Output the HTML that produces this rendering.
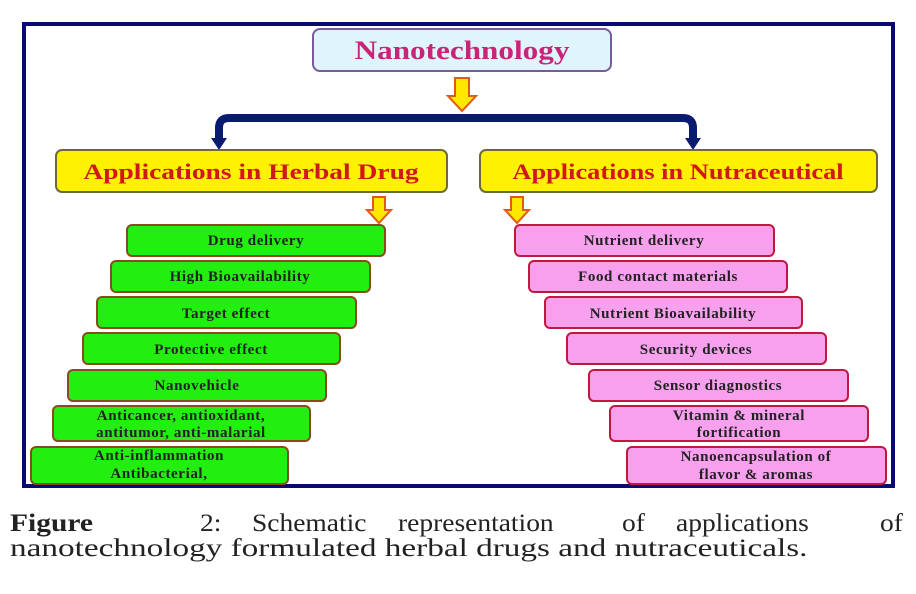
<!DOCTYPE html>
<html><head><meta charset="utf-8"><style>
html,body{margin:0;padding:0;background:#fff;width:916px;height:594px;overflow:hidden}
</style></head><body>
<svg width="916" height="594" viewBox="0 0 916 594" xmlns="http://www.w3.org/2000/svg" font-family="'Liberation Serif', serif" font-weight="bold">
<rect x="0" y="0" width="916" height="594" fill="#fff"/>
<rect x="24" y="24" width="869" height="462" fill="#fff" stroke="#0a0a6e" stroke-width="4"/>
<rect x="313" y="29" width="298" height="42" rx="7" fill="#dff4fb" stroke="#7a5a9a" stroke-width="2"/>
<text transform="translate(462,59) scale(1.2,1)" text-anchor="middle" font-size="26" fill="#c8247a">Nanotechnology</text>
<polygon points="455,78 469,78 469,96 476,96 462,111 448,96 455,96" fill="#ffe800" stroke="#e05a10" stroke-width="2"/>
<path d="M219,140 L219,128 Q219,118 229,118 L683,118 Q693,118 693,128 L693,140" fill="none" stroke="#0a1a6e" stroke-width="8"/>
<polygon points="211,138 227,138 219,150" fill="#0a1a6e"/>
<polygon points="685,138 701,138 693,150" fill="#0a1a6e"/>
<rect x="56" y="150" width="391" height="42" rx="6" fill="#fff200" stroke="#6a6a40" stroke-width="2"/>
<text transform="translate(251,179) scale(1.25,1)" text-anchor="middle" font-size="22" fill="#d01818">Applications in Herbal Drug</text>
<rect x="480" y="150" width="397" height="42" rx="6" fill="#fff200" stroke="#6a6a40" stroke-width="2"/>
<text transform="translate(678,179) scale(1.2,1)" text-anchor="middle" font-size="22" fill="#d01818">Applications in Nutraceutical</text>
<polygon points="373,197 385,197 385,210 391,210 379,223 367,210 373,210" fill="#ffe800" stroke="#e05a10" stroke-width="2"/>
<polygon points="511,197 523,197 523,210 529,210 517,223 505,210 511,210" fill="#ffe800" stroke="#e05a10" stroke-width="2"/>
<g font-size="15" fill="#222" text-anchor="middle" letter-spacing="0.6">
<g fill="#22ee10" stroke="#8a4a20" stroke-width="2">
<rect x="127" y="225" width="258" height="31" rx="5"/>
<rect x="111" y="261" width="259" height="31" rx="5"/>
<rect x="97" y="297" width="259" height="31" rx="5"/>
<rect x="83" y="333" width="257" height="31" rx="5"/>
<rect x="68" y="370" width="258" height="31" rx="5"/>
<rect x="53" y="406" width="257" height="35" rx="5"/>
<rect x="31" y="447" width="257" height="37" rx="5"/>
</g>
<text x="256" y="245">Drug delivery</text>
<text x="240" y="281">High Bioavailability</text>
<text x="226" y="318">Target effect</text>
<text x="211" y="354">Protective effect</text>
<text x="197" y="390">Nanovehicle</text>
<text x="181" y="420">Anticancer, antioxidant,</text>
<text x="181" y="437">antitumor, anti-malarial</text>
<text x="159" y="460">Anti-inflammation</text>
<text x="159" y="478">Antibacterial,</text>
<g fill="#f7a0ee" stroke="#c01840" stroke-width="2">
<rect x="515" y="225" width="259" height="31" rx="5"/>
<rect x="529" y="261" width="258" height="31" rx="5"/>
<rect x="545" y="297" width="257" height="31" rx="5"/>
<rect x="567" y="333" width="259" height="31" rx="5"/>
<rect x="589" y="370" width="259" height="31" rx="5"/>
<rect x="610" y="406" width="258" height="35" rx="5"/>
<rect x="627" y="447" width="259" height="37" rx="5"/>
</g>
<text x="644" y="245">Nutrient delivery</text>
<text x="658" y="281">Food contact materials</text>
<text x="673" y="318">Nutrient Bioavailability</text>
<text x="696" y="354">Security devices</text>
<text x="718" y="390">Sensor diagnostics</text>
<text x="739" y="420">Vitamin &amp; mineral</text>
<text x="739" y="437">fortification</text>
<text x="756" y="461">Nanoencapsulation of</text>
<text x="756" y="479">flavor &amp; aromas</text>
</g>
<g font-size="25" font-weight="normal" fill="#222">
<text transform="translate(10,531) scale(1.18,1)" font-weight="bold">Figure</text>
<text transform="translate(200,531) scale(1.1,1)">2:</text>
<text transform="translate(252,531) scale(1.1,1)">Schematic</text>
<text transform="translate(398,531) scale(1.1,1)">representation</text>
<text transform="translate(622,531) scale(1.1,1)">of</text>
<text transform="translate(676,531) scale(1.1,1)">applications</text>
<text transform="translate(880,531) scale(1.1,1)">of</text>
<text transform="translate(10,556) scale(1.33,1)">nanotechnology formulated herbal drugs and nutraceuticals.</text>
</g>
</svg>
</body></html>
